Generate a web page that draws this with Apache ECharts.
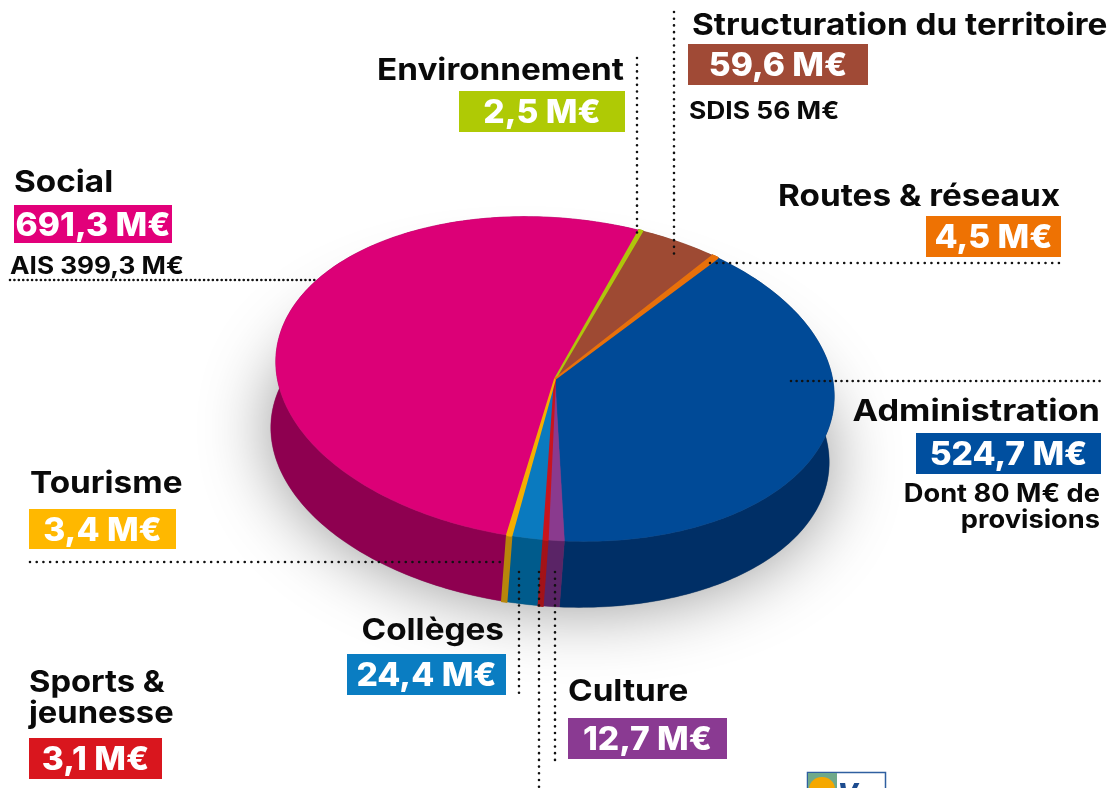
<!DOCTYPE html>
<html><head><meta charset="utf-8">
<style>html,body{margin:0;padding:0;background:#fff}#c{width:1109px;height:788px}</style>
<script src="https://cdn.jsdelivr.net/npm/echarts@6/dist/echarts.min.js"></script>
</head><body><div id="c"></div>
<script>
// ---- data (clockwise from the Environnement slice) ----
const categories = ['Environnement','Structuration du territoire','Routes & réseaux','Administration','Culture','Sports & jeunesse','Collèges','Tourisme','Social'];
const values = [2.5,59.6,4.5,524.7,12.7,3.1,24.4,3.4,691.3];
const valueLabels = ['2,5 M€','59,6 M€','4,5 M€','524,7 M€','12,7 M€','3,1 M€','24,4 M€','3,4 M€','691,3 M€'];
const topColors = ['#AFC50C','#9E4A33','#E8700A','#004A97','#8A3A8E','#C8141E','#0A7ABF','#F5AE00','#DC0077'];
const wallColors = ['#7C8C08','#6E3324','#A34E06','#002F66','#5A2466','#A31318','#005B8C','#B8860B','#8E0050'];
const boxColors = ['#AFCA05','#A04A36','#EE7203','#004F9F','#8A3A92','#D9161E','#0A7DC2','#FFB800','#E2007A'];

// ---- projection of the pie ----
const CX=555, CY=379, RA=280, RB=161, TILT=5.3*Math.PI/180, DX=-5, DY=66, START=14.5;
const cosT=Math.cos(TILT), sinT=Math.sin(TILT);
function pt(deg,ox,oy){
  const t=(deg-90)*Math.PI/180, u=RA*Math.cos(t), v=RB*Math.sin(t);
  return [CX+u*cosT-v*sinT+(ox||0), CY+u*sinT+v*cosT+(oy||0)];
}
function arc(a,b,ox,oy){
  const out=[], n=Math.max(2,Math.ceil(Math.abs(b-a)));
  for(let i=0;i<=n;i++) out.push(pt(a+(b-a)*i/n,ox,oy));
  return out;
}
const total=values.reduce((s,v)=>s+v,0);
let acc=START;
const sliceData=values.map((v,i)=>{const s=acc; acc+=v/total*360; return [v,s,acc,i];});

const chart=echarts.init(document.getElementById('c'),null,{renderer:'canvas'});

const shadowItem=(p,api)=>{
  const hull=arc(0,360,DX,DY).map(q=>api.coord(q));
  return {type:'polygon',shape:{points:hull},silent:true,
    style:{fill:'#777',shadowBlur:70,shadowColor:'rgba(0,0,0,0.42)',shadowOffsetX:0,shadowOffsetY:0}};
};
const isThin=(a,b)=>(b-a)<1.5;
const wallItem=(p,api)=>{
  const i=api.value(3),a=api.value(1),b=api.value(2);
  const pts=arc(a,b).concat(arc(b,a,DX,DY)).map(q=>api.coord(q));
  return {type:'polygon',z2:isThin(a,b)?5:1,shape:{points:pts},style:{fill:wallColors[i],stroke:wallColors[i],lineWidth:isThin(a,b)?2:0.4}};
};
const topItem=(p,api)=>{
  const i=api.value(3),a=api.value(1),b=api.value(2);
  const pts=[[CX,CY]].concat(arc(a,b)).map(q=>api.coord(q));
  return {type:'polygon',z2:isThin(a,b)?5:1,shape:{points:pts},style:{fill:topColors[i],stroke:topColors[i],lineWidth:isThin(a,b)?2:0.4,lineJoin:'bevel'}};
};

// ---- annotations ----
const FONT='Inter, "Noto Sans", sans-serif';
function txt(text,x,y,size,align,weight,fill,sx){
  return {type:'text',x:x,y:y+2,scaleX:sx||1,originX:0,originY:0,z:20,silent:true,
    style:{text:text,x:0,y:0,font:(weight||700)+' '+size+'px '+FONT,fill:fill||'#0a0a0a',align:align||'left',verticalAlign:'middle'}};
}
function box(i,x0,y0,x1,y1,sx){
  return [
   {type:'rect',z:15,silent:true,shape:{x:x0,y:y0,width:x1-x0,height:y1-y0},style:{fill:boxColors[i]}},
   txt(valueLabels[i],(x0+x1)/2,(y0+y1)/2,32,'center',800,'#fff',sx||1.05)
  ];
}
function dots(x1,y1,x2,y2,gap){
  return {type:'line',z:14,silent:true,shape:{x1,y1,x2,y2},
    style:{stroke:'#111',lineWidth:2.6,lineCap:'round',lineDash:[0.01,gap]}};
}
const TS=1.11;
const graphics=[
  dots(10,280,315,280,4.4), dots(637,58,637,236,6.7), dots(674,12,674,258,6.7),
  dots(710,263,1060,263,6.7), dots(791,381,1100,381,5.6), dots(30,562,506,562,6.7),
  dots(519,572,519,695,6.7), dots(539,572,539,788,6.7), dots(555,572,555,760,6.7),
  ...box(8,14,205,172,243), ...box(0,459,91,625,132), ...box(1,688,44,868,85),
  ...box(2,926,216,1061,257), ...box(3,916,433,1101,474), ...box(7,29,509,176,549),
  ...box(6,347,654,506,695), ...box(4,568,718,727,759), ...box(5,29,738,162,779),
  txt('Social',14,181,30,'left',700,null,TS),
  txt('Environnement',624,69,30,'right',700,null,TS),
  txt('Structuration du territoire',692,24,30,'left',700,null,TS),
  txt('Routes & réseaux',1060,195,30,'right',700,null,TS),
  txt('Administration',1100,410,30,'right',700,null,1.145),
  txt('Tourisme',30,482,30,'left',700,null,TS),
  txt('Collèges',504,629,30,'right',700,null,TS),
  txt('Sports &',29,681,30,'left',700,null,1.09),
  txt('jeunesse',29,712,30,'left',700,null,1.09),
  txt('Culture',568,690,30,'left',700,null,TS),
  txt('AIS 399,3 M€',10,265,24,'left',700,null,1.09),
  txt('SDIS 56 M€',689,110,24,'left',700,null,1.1),
  txt('Dont 80 M€ de',1100,492,25,'right',700,null,1.09),
  txt('provisions',1100,518,25,'right',700,null,1.09),
  // logo, cut by the bottom edge
  {type:'rect',z:15,silent:true,shape:{x:807.5,y:772.5,width:78,height:20},style:{fill:'#fff',stroke:'#2F5FA0',lineWidth:1.5}},
  {type:'rect',z:15,silent:true,shape:{x:808,y:773,width:29,height:20},style:{fill:'#6FA98A'}},
  {type:'ellipse',z:16,silent:true,shape:{cx:822,cy:789,rx:13,ry:12},style:{fill:'#F5A800'}},
  {type:'text',z:16,silent:true,x:861,y:795,style:{text:'Var',font:'italic 800 27px '+FONT,fill:'#1D4C8F',align:'center',verticalAlign:'middle'}}
];

chart.setOption({
  animation:false,
  backgroundColor:'#fff',
  grid:{left:0,top:0,width:1109,height:788,containLabel:false},
  xAxis:{type:'value',min:0,max:1109,show:false},
  yAxis:{type:'value',min:0,max:788,inverse:true,show:false},
  series:[
    {type:'custom',name:'ombre',renderItem:shadowItem,data:[[0]],clip:false,silent:true,z:1},
    {type:'custom',name:'flancs',renderItem:wallItem,data:sliceData,clip:false,silent:true,z:2},
    {type:'custom',name:'budget',renderItem:topItem,data:sliceData,clip:false,silent:true,z:3}
  ],
  graphic:graphics
});
</script></body></html>
